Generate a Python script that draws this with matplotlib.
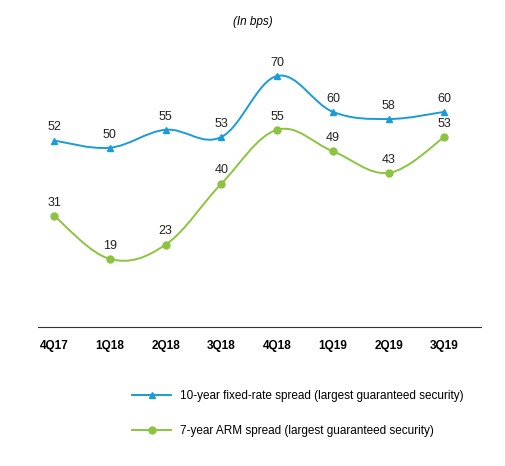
import matplotlib
matplotlib.use("Agg")
import matplotlib.pyplot as plt
from matplotlib.path import Path
from matplotlib.patches import PathPatch
from matplotlib.lines import Line2D

plt.rcParams['font.family'] = ['Liberation Sans Narrow', 'Liberation Sans', 'DejaVu Sans']

quarters = ["4Q17", "1Q18", "2Q18", "3Q18", "4Q18", "1Q19", "2Q19", "3Q19"]
fixed_spread = [52, 50, 55, 53, 70, 60, 58, 60]
arm_spread = [31, 19, 23, 40, 55, 49, 43, 53]

BLUE = "#1b9bd7"
GREEN = "#8cc43f"


def smooth_path(xs, ys, t=0.18):
    # cubic bezier through the points (Catmull-Rom style control points)
    verts = [(xs[0], ys[0])]
    codes = [Path.MOVETO]
    n = len(xs)
    for i in range(n - 1):
        x0, y0 = xs[max(i - 1, 0)], ys[max(i - 1, 0)]
        x1, y1 = xs[i], ys[i]
        x2, y2 = xs[i + 1], ys[i + 1]
        x3, y3 = xs[min(i + 2, n - 1)], ys[min(i + 2, n - 1)]
        c1 = (x1 + (x2 - x0) * t, y1 + (y2 - y0) * t)
        c2 = (x2 - (x3 - x1) * t, y2 - (y3 - y1) * t)
        verts += [c1, c2, (x2, y2)]
        codes += [Path.CURVE4] * 3
    return Path(verts, codes)


fig = plt.figure(figsize=(5.06, 4.66), dpi=100)
ax = fig.add_axes([0.075, 0.298, 0.875, 0.616])
xs = list(range(len(quarters)))

for vals, color, marker in [(fixed_spread, BLUE, "^"), (arm_spread, GREEN, "o")]:
    ax.add_patch(PathPatch(smooth_path(xs, vals), fill=False, edgecolor=color, lw=1.4))
    ax.plot(xs, vals, ls="none", marker=marker, color=color, ms=5)
    for x, v in zip(xs, vals):
        ax.text(x, v + 2.0, str(v), ha="center", va="bottom", fontsize=9, color="#222222")

ax.set_xlim(-0.29, 7.65)
ax.set_ylim(0, 80)
ax.set_xticks(xs)
ax.set_xticklabels(quarters, fontsize=8.5, fontweight="bold")
ax.set_yticks([])
ax.tick_params(axis="x", length=0, pad=9)
for s in ["top", "right", "left"]:
    ax.spines[s].set_visible(False)
ax.spines["bottom"].set_color("#333333")

fig.text(0.5, 0.953, "(In bps)", ha="center", va="center", fontsize=8.5, style="italic")

handles = [Line2D([], [], color=BLUE, marker="^", ms=5, lw=1.4),
           Line2D([], [], color=GREEN, marker="o", ms=5, lw=1.4)]
labels = ["10-year fixed-rate spread (largest guaranteed security)",
          "7-year ARM spread (largest guaranteed security)"]
fig.legend(handles, labels, loc="upper left", bbox_to_anchor=(0.24, 0.185),
           frameon=False, fontsize=8.5, labelspacing=1.9, handlelength=3.3)

fig.savefig("out.png", dpi=100)
